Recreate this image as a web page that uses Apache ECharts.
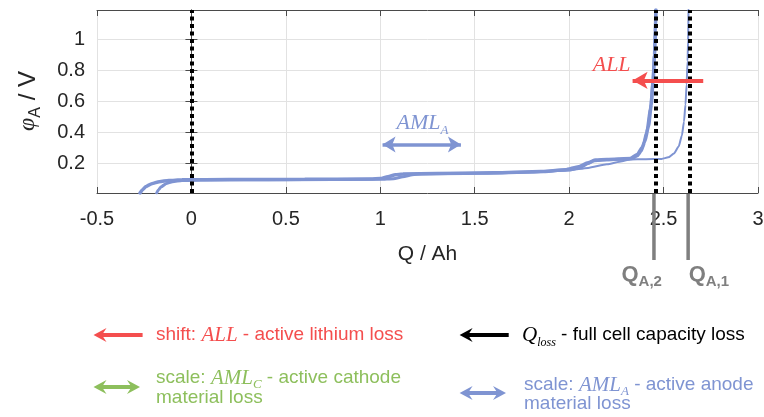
<!DOCTYPE html>
<html><head><meta charset="utf-8">
<script src="https://cdn.jsdelivr.net/npm/echarts@6/dist/echarts.min.js"></script>
<style>html,body{margin:0;padding:0;background:#fff}#c{width:764px;height:417px}</style>
</head><body><div id="c"></div>
<script>
// ---------- data ----------
const xMin = -0.5, xMax = 3, xStep = 0.5;
const yMin = 0.01, yMax = 1.19;
const yTicks = [0.2, 0.4, 0.6, 0.8, 1];

const curveThickA = [[-0.272,0.01],[-0.26,0.03],[-0.24,0.052],[-0.21,0.07],[-0.17,0.083],[-0.12,0.091],[-0.05,0.095],[0.2,0.097],[0.6,0.098],[0.95,0.1],[1.0,0.103],[1.04,0.115],[1.08,0.127],[1.12,0.133],[1.3,0.136],[1.6,0.14],[1.85,0.148],[1.98,0.16],[2.05,0.18],[2.1,0.205],[2.14,0.222],[2.2,0.226],[2.33,0.232],[2.36,0.25],[2.38,0.28],[2.4,0.34],[2.42,0.44],[2.435,0.58],[2.445,0.74],[2.452,0.9],[2.457,1.05],[2.46,1.19]];
const curveThickB = [[-0.184,0.01],[-0.175,0.03],[-0.16,0.05],[-0.135,0.07],[-0.1,0.083],[-0.05,0.09],[0.05,0.094],[0.5,0.096],[1.0,0.098],[1.07,0.102],[1.12,0.115],[1.17,0.128],[1.22,0.133],[1.5,0.137],[1.8,0.145],[2.0,0.158],[2.06,0.175],[2.1,0.2],[2.13,0.218],[2.2,0.224],[2.32,0.23],[2.36,0.26],[2.39,0.31],[2.41,0.4],[2.43,0.55],[2.443,0.72],[2.452,0.9],[2.458,1.19]];
const curveThin = [[-0.272,0.01],[-0.26,0.03],[-0.24,0.052],[-0.21,0.07],[-0.17,0.083],[-0.12,0.091],[-0.05,0.095],[0.2,0.097],[0.6,0.098],[0.95,0.1],[1.0,0.103],[1.04,0.115],[1.08,0.127],[1.12,0.133],[1.3,0.136],[1.6,0.14],[1.85,0.146],[2.0,0.157],[2.1,0.172],[2.2,0.195],[2.28,0.215],[2.32,0.226],[2.4,0.228],[2.49,0.23],[2.525,0.24],[2.555,0.265],[2.58,0.31],[2.597,0.38],[2.608,0.47],[2.616,0.58],[2.622,0.71],[2.627,0.86],[2.63,1.0],[2.632,1.19]];

const capacityLines = [0, 2.457, 2.638];       // dotted black verticals
const qaMarks = [{q: 2.457, sub: 'A,2'}, {q: 2.638, sub: 'A,1'}];
const allArrow = [[2.71, 0.736], [2.336, 0.736]];
const amlArrow = [[1.012, 0.322], [1.427, 0.322]];

// ---------- styles ----------
const BLUE = '#7f94d2', RED = '#f44e4e', GREEN = '#8dbf5c', GRAY = '#7f7f7f', INK = '#262626';
const SANS = "'Liberation Sans', Arial, Helvetica, sans-serif";
const SERIF = "'Liberation Serif', 'Times New Roman', serif";

const chart = echarts.init(document.getElementById('c'), null, {renderer: 'canvas'});

const axisLineStyle = {show: true, lineStyle: {color: '#4a4a4a', width: 1}};
const option = {
  animation: false,
  backgroundColor: '#fff',
  grid: {left: 97, right: 6, top: 10, bottom: 224, containLabel: false, outerBoundsMode: 'none'},
  xAxis: [
    {type: 'value', min: xMin, max: xMax, interval: xStep, position: 'bottom',
     axisLine: axisLineStyle, axisTick: {show: true, inside: true, length: 6, lineStyle: {color: '#4a4a4a'}},
     axisLabel: {fontSize: 20, color: INK, fontFamily: SANS, margin: 16},
     splitLine: {show: true, lineStyle: {color: '#e2e2e2', width: 1}},
     name: 'Q / Ah', nameLocation: 'middle', nameGap: 51,
     nameTextStyle: {fontSize: 21, color: INK, fontFamily: SANS}},
    {type: 'value', min: xMin, max: xMax, interval: xStep, position: 'top',
     axisLine: axisLineStyle, axisTick: {show: true, inside: true, length: 6, lineStyle: {color: '#4a4a4a'}},
     axisLabel: {show: false}, splitLine: {show: false}}
  ],
  yAxis: [
    {type: 'value', min: yMin, max: yMax, position: 'left',
     axisLine: axisLineStyle,
     axisTick: {show: true, inside: true, length: 6, customValues: yTicks, lineStyle: {color: '#4a4a4a'}},
     axisLabel: {fontSize: 20, color: INK, fontFamily: SANS, margin: 12, customValues: yTicks},
     splitLine: {show: true, lineStyle: {color: '#e2e2e2', width: 1}}},
    {type: 'value', min: yMin, max: yMax, position: 'right',
     axisLine: axisLineStyle,
     axisTick: {show: true, inside: true, length: 6, customValues: yTicks, lineStyle: {color: '#4a4a4a'}},
     axisLabel: {show: false, customValues: yTicks}, splitLine: {show: false}}
  ],
  series: [
    {type: 'line', data: curveThin, showSymbol: false, smooth: 0.2, smoothMonotone: 'x',
     lineStyle: {color: BLUE, width: 2, cap: 'round'}, z: 3, silent: true},
    {type: 'line', data: curveThickB, showSymbol: false, smooth: 0.2, smoothMonotone: 'x',
     lineStyle: {color: BLUE, width: 3, cap: 'round'}, z: 3, silent: true},
    {type: 'line', data: curveThickA, showSymbol: false, smooth: 0.2, smoothMonotone: 'x',
     lineStyle: {color: BLUE, width: 3.5, cap: 'round'}, z: 3, silent: true},
    {type: 'line', data: [], z: 6, silent: true,
     markLine: {silent: true, symbol: 'none', label: {show: false}, animation: false,
       lineStyle: {color: '#000', width: 4, type: [4, 3.5]},
       data: capacityLines.map(v => ({xAxis: v}))}},
    {type: 'line', data: [], z: 8, silent: true,
     markLine: {silent: true, symbol: ['none', 'arrow'], symbolSize: [13, 15], label: {show: false}, animation: false,
       lineStyle: {color: RED, width: 4, type: 'solid'},
       data: [[{coord: allArrow[0]}, {coord: allArrow[1]}]]}},
    {type: 'line', data: [], z: 8, silent: true,
     markLine: {silent: true, symbol: ['arrow', 'arrow'], symbolSize: [12, 13], label: {show: false}, animation: false,
       lineStyle: {color: BLUE, width: 3.5, type: 'solid'},
       data: [[{coord: amlArrow[0]}, {coord: amlArrow[1]}]]}}
  ]
};
chart.setOption(option);

// ---------- text helpers ----------
const mctx = document.createElement('canvas').getContext('2d');
function fontStr(t) { return (t.fontStyle || 'normal') + ' ' + (t.fontWeight || 'normal') + ' ' + t.fontSize + 'px ' + t.fontFamily; }
function tw(t) { mctx.font = fontStr(t); return mctx.measureText(t.text).width; }
function rowWidth(tokens) { return tokens.reduce((s, t) => s + tw(t), 0); }
function richRow(x, y, tokens) {
  let cx = x; const out = [];
  tokens.forEach(t => {
    out.push({type: 'text', x: cx, y: y + (t.dy || 0), silent: true, z: 20,
      style: {text: t.text, fontSize: t.fontSize, fontFamily: t.fontFamily, fontStyle: t.fontStyle || 'normal',
              fontWeight: t.fontWeight || 'normal', fill: t.color, align: 'left', verticalAlign: 'middle'}});
    cx += tw(t);
  });
  return out;
}
function sans(text, color, size) { return {text, color, fontSize: size || 19, fontFamily: SANS}; }
function ital(text, color, size, dy) { return {text, color, fontSize: size || 21, fontFamily: SERIF, fontStyle: 'italic', dy: dy || 0}; }

function arrowHead(tipX, y, dir, color, len, half) {
  const b = tipX - dir * len, m = tipX - dir * len * 0.65;
  return {type: 'polygon', silent: true, z: 20,
    shape: {points: [[tipX, y], [b, y - half], [m, y], [b, y + half]]}, style: {fill: color}};
}
function arrowGfx(x1, x2, y, color, both) {
  const els = [{type: 'line', silent: true, z: 20, shape: {x1: x1 + 6, y1: y, x2: both ? x2 - 6 : x2, y2: y},
               style: {stroke: color, lineWidth: 4}}];
  els.push(arrowHead(x1, y, -1, color, 13, 7));
  if (both) els.push(arrowHead(x2, y, 1, color, 13, 7));
  return els;
}

// ---------- graphics ----------
const g = [];
const P = (pt) => chart.convertToPixel({gridIndex: 0}, pt);
const plotBottom = P([0, yMin])[1];

// in-plot labels
const allHead = P(allArrow[1]);
const allTok = [ital('ALL', RED, 22)];
g.push(...richRow(allHead[0] - 2 - rowWidth(allTok), allHead[1] - 15, allTok));
const amlLeft = P(amlArrow[0]);
g.push(...richRow(amlLeft[0] + 14, amlLeft[1] - 21, [ital('AML', BLUE, 22), ital('A', BLUE, 13, 7)]));

// Q_A markers below the plot
qaMarks.forEach((m, i) => {
  const px = P([m.q, yMin])[0];
  g.push({type: 'line', silent: true, z: 20, shape: {x1: px - 1.5, y1: plotBottom + 1, x2: px - 1.5, y2: plotBottom + 67},
          style: {stroke: GRAY, lineWidth: 3.5}});
  const sx = i === 0 ? px - 34 : px - 1;
  g.push(...richRow(sx, 275, [
    {text: 'Q', color: GRAY, fontSize: 22, fontFamily: SANS, fontWeight: 'bold'},
    {text: m.sub, color: GRAY, fontSize: 15, fontFamily: SANS, fontWeight: 'bold', dy: 7}]));
});

// y-axis name (rotated)
const yTok = [ital('φ', INK, 24), {text: 'A', color: INK, fontSize: 16, fontFamily: SANS, dy: 8}, {text: ' / V', color: INK, fontSize: 24, fontFamily: SANS}];
const yW = rowWidth(yTok);
g.push({type: 'group', x: 28, y: 101, rotation: Math.PI / 2, silent: true, children: richRow(-yW / 2, 0, yTok)});

// legend block
g.push(...arrowGfx(93.5, 142.6, 335, RED, false));
g.push(...richRow(156, 335, [sans('shift: ', RED), ital('ALL', RED), sans(' - active lithium loss', RED)]));

g.push(...arrowGfx(459.6, 508.7, 335, '#000', false));
g.push(...richRow(522, 335, [ital('Q', '#000'), ital('loss', '#000', 12, 8), sans(' - full cell capacity loss', '#000')]));

g.push(...arrowGfx(93.5, 140, 387, GREEN, true));
g.push(...richRow(156, 378, [sans('scale: ', GREEN), ital('AML', GREEN), ital('C', GREEN, 13, 7), sans(' - active cathode', GREEN)]));
g.push(...richRow(156, 398, [sans('material loss', GREEN)]));

g.push(...arrowGfx(459.6, 506, 393, BLUE, true));
g.push(...richRow(524, 385, [sans('scale: ', BLUE), ital('AML', BLUE), ital('A', BLUE, 13, 7), sans(' - active anode', BLUE)]));
g.push(...richRow(524, 404, [sans('material loss', BLUE)]));

chart.setOption({graphic: g});
</script>
</body></html>
